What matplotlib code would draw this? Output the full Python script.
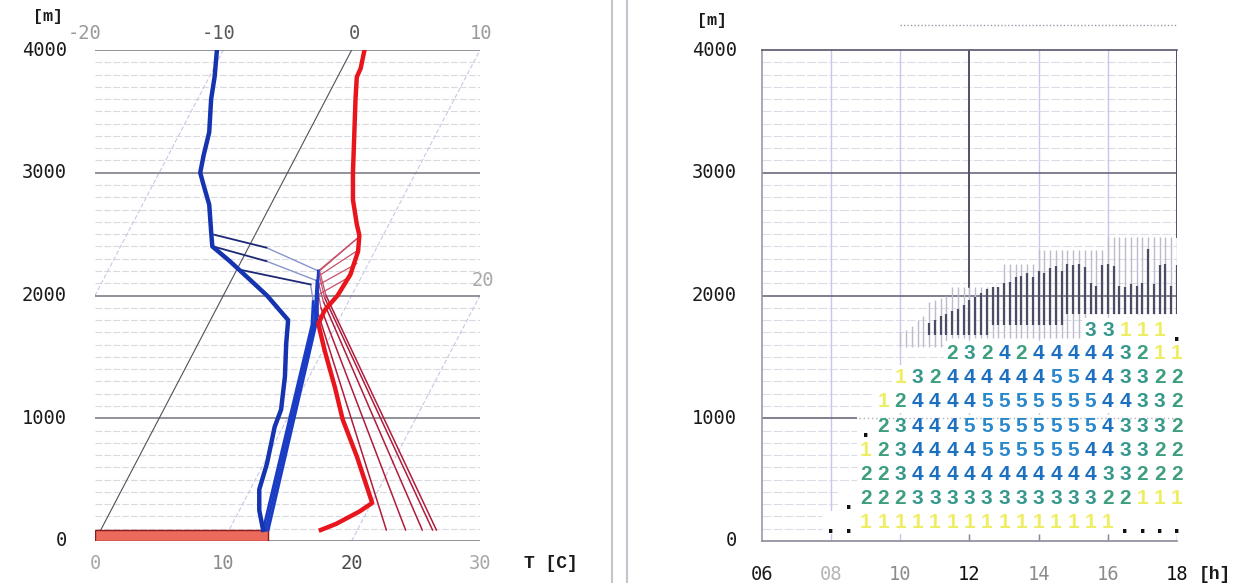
import numpy as np
import matplotlib
matplotlib.use("Agg")
import matplotlib.pyplot as plt
from matplotlib.transforms import Affine2D
from matplotlib.lines import Line2D

# ---------------- left panel: sounding (height [m], temperature [C]) ----------------
SKEW = 0.005  # isotherm skew, deg C per metre

temp_z = [4080, 4000, 3850, 3780, 3600, 3300, 3000, 2780, 2580, 2490, 2360, 2170,
          2000, 1880, 1770, 1550, 1250, 990, 690, 310, 240, 140, 90]
temp_t = [0.7, 1.0, 1.45, 1.5, 2.3, 3.7, 5.1, 6.2, 7.5, 8.15, 8.7, 9.05,
          8.9, 8.5, 8.55, 10.15, 12.45, 14.35, 16.95, 20.05, 19.4, 18.1, 17.15]

dew_z = [4080, 4000, 3785, 3600, 3330, 3140, 3000, 2900, 2740, 2520, 2400, 2280,
         2145, 2000, 1800, 1610, 1340, 1070, 930, 630, 420, 250, 90]
dew_t = [-10.8, -10.5, -9.6, -8.95, -7.75, -7.24, -6.8, -6.04, -4.8, -3.55, -2.86, -0.9,
         1.18, 3.4, 6.05, 6.85, 8.1, 9.15, 9.35, 10.25, 10.7, 11.55, 12.65]

# parcel (thermal) curves started at different hours
parcel_z = [[90, 1850, 2000, 2150],
            [90, 1900, 2080, 2260],
            [90, 1950, 2150, 2370],
            [90, 1980, 2200, 2480],
            [90, 2000, 2200, 2480]]
parcel_t = [[22.25, 8.15, 7.3, 9.05],
            [23.75, 8.1, 6.9, 9.1],
            [25.05, 8.05, 6.55, 8.65],
            [25.85, 8.0, 6.4, 8.2],
            [26.15, 8.0, 6.5, 8.2]]

mix_z = [[90, 1760, 1950, 2090, 2210],
         [90, 1780, 2120, 2280, 2400],
         [90, 1800, 2200, 2390, 2495]]
mix_t = [[12.65, 8.1, 7.25, 6.35, 0.25],
         [12.85, 8.2, 6.7, 1.95, -2.8],
         [13.05, 8.3, 6.4, 1.4, -3.18]]

surface_temp = 13.5
isotherms = [-20, -10, 10, 20]

# ---------------- right panel: thermal forecast grid ----------------
grid_times = [8.0, 8.5, 9.0, 9.5, 10.0, 10.5, 11.0, 11.5, 12.0, 12.5, 13.0,
              13.5, 14.0, 14.5, 15.0, 15.5, 16.0, 16.5, 17.0, 17.5, 18.0]
row_z = [150, 345, 540, 735, 930, 1140, 1335, 1530, 1715]
rows = [
    "..111111111111111....",
    " .2223333333333322111",
    "  2234444444444433222",
    "  1234444555555443322",
    "  .234445555555543332",
    "   124444555555544332",
    "    13244444455443322",
    "       23242444443211",
    "               33111.",
]
digit_colors = {"1": "#eeee66", "2": "#3f9f7c", "3": "#36988c",
                "4": "#1d6fc0", "5": "#2a88cc", ".": "#111111"}

bar_times = np.arange(49) / 6 + 10
light_lo = [1580, 1580, 1580, 1580, 1580, 1580, 1580, 1580, 1580,
            1650, 1650, 1650, 1650, 1650, 1650, 1650, 1650, 1650, 1650, 1650, 1650,
            1650, 1650, 1650, 1650, 1650, 1650, 1650, 1650, 1650, 1650, 1650, 1650,
            1850, 1850, 1850, 1850, 1850, 1850, 1850, 1850, 1850, 1850, 1850, 1850,
            1850, 1850, 1850, 1850]
light_hi = [1700, 1720, 1750, 1800, 1830, 1950, 1960, 1980, 2000,
            2070, 2070, 2070, 2070, 2070, 2070, 2070, 2070, 2070,
            2260, 2260, 2260, 2260, 2260, 2260,
            2370, 2370, 2370, 2370, 2370, 2370, 2370, 2370, 2370, 2370, 2370, 2370,
            2480, 2480, 2480, 2480, 2480, 2480, 2480, 2480, 2480, 2480, 2480, 2480, 2480]
dark_lo = [np.nan] * 5 + [1680, 1680, 1680, 1680, 1680, 1680, 1680, 1680, 1680, 1680, 1680,
                          1760, 1760, 1760, 1760, 1760, 1760, 1760, 1760, 1760, 1760, 1760, 1760, 1760,
                          1850, 1850, 1850, 1850, 1850, 1850, 1850, 1850, 1850, 1850,
                          1850, 1850, 1850, 1850, 1850, 1850, 1850, 1850, 1850, 1850]
dark_hi = [np.nan] * 5 + [1780, 1800, 1830, 1850, 1870, 1890, 1920, 1960, 1990, 2020, 2050,
                          2070, 2070, 2100, 2110, 2150, 2160, 2180, 2150, 2200, 2180, 2220, 2240, 2200,
                          2260, 2250, 2260, 2230, 2100, 2080, 2250, 2260, 2240, 2080,
                          2070, 2090, 2080, 2100, 2380, 2090, 2250, 2260, 2080, 2250]

MONO = "DejaVu Sans Mono"

fig = plt.figure(figsize=(12.53, 5.83), dpi=100)
fig.patch.set_facecolor("white")

# ============================ left panel ============================
ax = fig.add_axes([95 / 1253, 42 / 583, 385 / 1253, 491 / 583])
ax.set_xlim(0, 30)
ax.set_ylim(0, 4000)
ax.axis("off")
skew = Affine2D(np.array([[1, SKEW, 0], [0, 1, 0], [0, 0, 1]])) + ax.transData

# height grid
for z in range(100, 4000, 100):
    if z % 1000:
        ax.plot([0, 30], [z, z], color="#d9d9e0", lw=0.8, ls=(0, (6, 2)), zorder=1)
for z in [0, 1000, 2000, 3000, 4000]:
    ax.plot([0, 30], [z, z], color="#74747f", lw=1.1, zorder=1.5)

# isotherms
for t in isotherms:
    ax.plot([t, t], [0, 4000], transform=skew, color="#c8c8e6", lw=0.8,
            ls=(0, (4, 2)), zorder=1.2)
ax.plot([0, 0], [0, 4000], transform=skew, color="#505058", lw=0.8, zorder=1.6)

ax.barh(45, surface_temp, height=90, left=0, color="#ec6a5c",
        edgecolor="#8a1c1c", lw=1.0, zorder=2)

for zz, tt in zip(parcel_z, parcel_t):
    ax.plot(tt[:2], zz[:2], transform=skew, color="#b01c3c", lw=1.1, zorder=3)
    ax.plot(tt[1:], zz[1:], transform=skew, color="#c8506a", lw=0.9, zorder=3)
for zz, tt in zip(mix_z, mix_t):
    ax.plot(tt[:3], zz[:3], transform=skew, color="#1a3cc4", lw=2.0, zorder=3.2)
    ax.plot(tt[2:4], zz[2:4], transform=skew, color="#8a94cc", lw=1.0, zorder=3.1)
    ax.plot(tt[3:], zz[3:], transform=skew, color="#1c2876", lw=1.3, zorder=3.1)

ax.plot(temp_t, temp_z, transform=skew, color="#e8161c", lw=3.2, zorder=4,
        solid_joinstyle="round")
ax.plot(dew_t, dew_z, transform=skew, color="#1634b0", lw=3.2, zorder=4,
        solid_joinstyle="round")

# labels
for z in [4000, 3000, 2000, 1000, 0]:
    ax.text(-2.2, z, str(z), ha="right", va="center", fontsize=13.5,
            family=MONO, color="#1a1a1a", clip_on=False)
ax.text(-3.7, 4270, "[m]", ha="center", va="center", fontsize=12,
        family="Liberation Mono", fontweight="bold", color="#1a1a1a")
for x, lab, c in [(0, "0", "#a8a8a8"), (10, "10", "#8c8c8c"),
                  (20, "20", "#4a4a4a"), (30, "30", "#a8a8a8")]:
    ax.text(x, -180, lab, ha="center", va="center", fontsize=13.5, family=MONO, color=c)
ax.text(35.5, -180, "T [C]", ha="center", va="center", fontsize=13,
        family="Liberation Mono", fontweight="bold", color="#1a1a1a")
for x, lab, c in [(-0.8, "-20", "#9a9a9a"), (9.6, "-10", "#5a5a5a"),
                  (20.2, "0", "#5a5a5a"), (30.1, "10", "#9a9a9a")]:
    ax.text(x, 4135, lab, ha="center", va="center", fontsize=13.5, family=MONO, color=c)
ax.text(30.2, 2120, "20", ha="center", va="center", fontsize=13.5, family=MONO,
        color="#a8a8a8")

# ============================ right panel ============================
bx = fig.add_axes([762 / 1253, 42 / 583, 415 / 1253, 491 / 583])
bx.set_xlim(6, 18)
bx.set_ylim(0, 4000)
bx.set_xticks([])
bx.set_yticks([])
bx.spines["top"].set_color("#55556a")
bx.spines["left"].set_color("#9a9ab0")
bx.spines["bottom"].set_color("#8a8a9a")
bx.spines["right"].set_visible(False)
for s in ["top", "left", "bottom"]:
    bx.spines[s].set_linewidth(1.2)

for z in range(100, 4000, 100):
    if z % 1000:
        bx.plot([6, 18], [z, z], color="#dcdce6", lw=0.8, ls=(0, (8, 2)), zorder=1)
for t in [8, 10, 14, 16]:
    bx.plot([t, t], [0, 4000], color="#c6c6ee", lw=1.0, zorder=1.1)
bx.plot([12, 12], [0, 2070], color="#c6c6ee", lw=1.0, zorder=1.1)
bx.plot([12, 12], [2070, 4000], color="#50506a", lw=1.4, zorder=1.3)
bx.plot([18, 18], [2480, 4000], color="#50506a", lw=1.4, zorder=1.3)
for z in [2000, 3000]:
    bx.plot([6, 18], [z, z], color="#6a6a7c", lw=1.2, zorder=1.2)
bx.plot([6, 8.8], [1000, 1000], color="#6a6a7c", lw=1.2, zorder=1.2)
bx.plot([8.8, 18], [1000, 1000], color="#b0b0bc", lw=1.0, ls=(0, (1, 2)), zorder=2.7)
for t in [12, 14, 16, 18]:
    bx.plot([t, t], [0, 45], color="#8a8a9a", lw=1.0, zorder=1.2)

bx.vlines(bar_times, light_lo, light_hi, color="#bcbccc", lw=1.0, zorder=1.8)
bx.vlines(bar_times, dark_lo, dark_hi, color="#4c4c64", lw=1.6, zorder=1.9)

bx.plot([10, 18], [4200, 4200], color="#9a9aaa", lw=1.0, ls=(0, (1, 1.5)),
        clip_on=False)

for z, row in zip(row_z, rows):
    for t, ch in zip(grid_times, row):
        if ch == " ":
            continue
        bx.bar(t, 195, width=0.5, bottom=z - 97, color="white", lw=0, zorder=2.5)
        if ch == ".":
            bx.text(t, z - 40, ".", ha="center", va="center", fontsize=14,
                    fontweight="bold", color=digit_colors[ch], zorder=3)
        else:
            bx.text(t, z, ch, ha="center", va="center", fontsize=15,
                    family="Liberation Sans", fontweight="bold",
                    color=digit_colors[ch], zorder=3)

for z in [4000, 3000, 2000, 1000, 0]:
    bx.text(5.28, z, str(z), ha="right", va="center", fontsize=13.5,
            family=MONO, color="#1a1a1a", clip_on=False)
bx.text(4.55, 4240, "[m]", ha="center", va="center", fontsize=12,
        family="Liberation Mono", fontweight="bold", color="#1a1a1a")
for t, lab, c in [(6, "06", "#1a1a1a"), (8, "08", "#b4b4b4"), (10, "10", "#8c8c8c"),
                  (12, "12", "#111111"), (14, "14", "#8c8c8c"), (16, "16", "#8c8c8c"),
                  (18, "18", "#111111")]:
    bx.text(t, -275, lab, ha="center", va="center", fontsize=13.5, family=MONO, color=c)
bx.text(19.1, -275, "[h]", ha="center", va="center", fontsize=13,
        family="Liberation Mono", fontweight="bold", color="#1a1a1a")

# panel divider
for x in [612, 627]:
    fig.add_artist(Line2D([x / 1253, x / 1253], [0, 1], color="#c4c4cc", lw=1.5))

fig.savefig("out.png", dpi=100)
